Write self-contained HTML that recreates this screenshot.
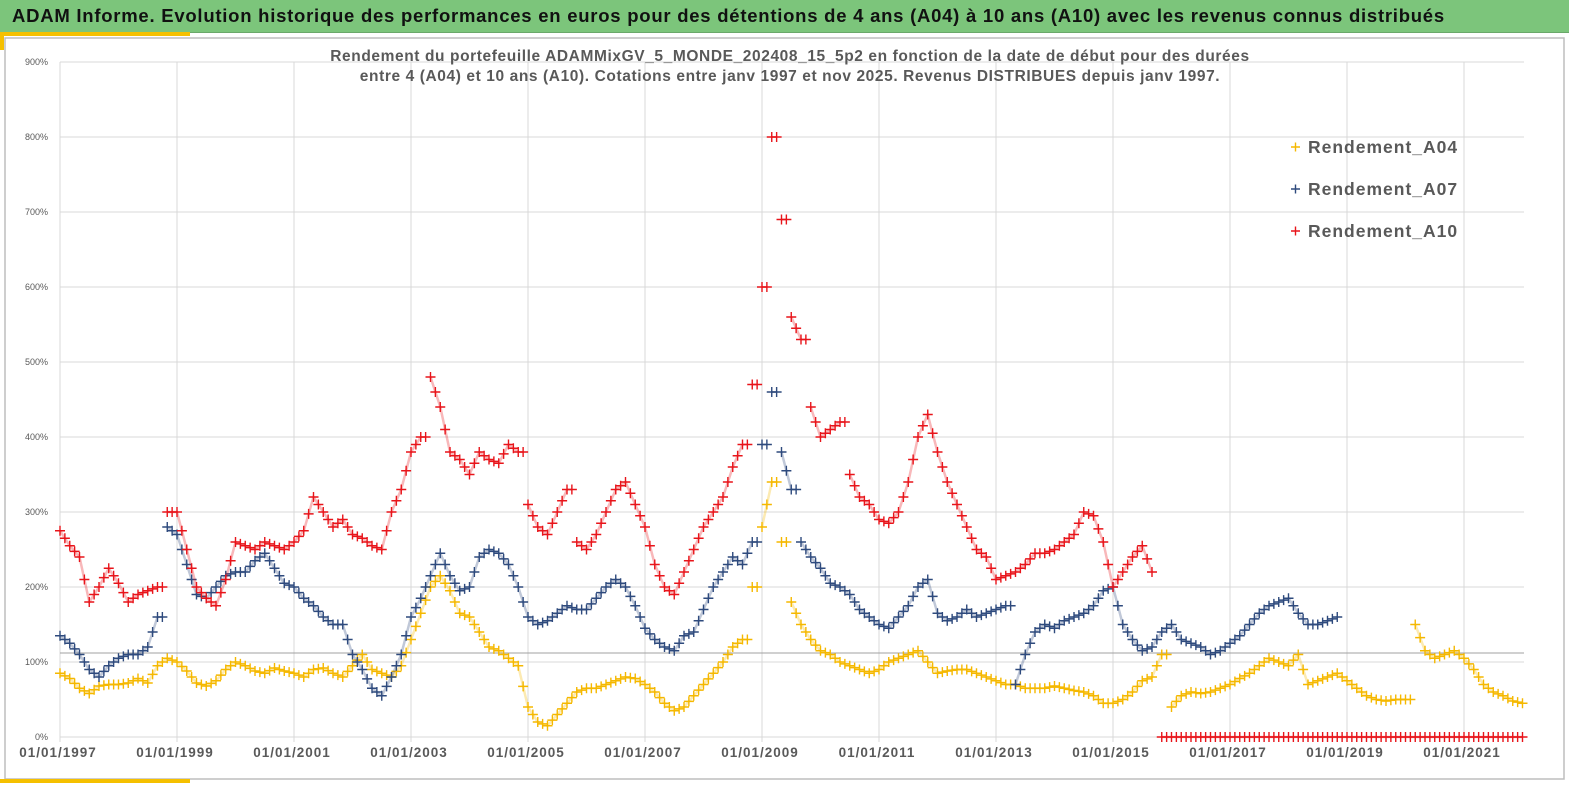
<!DOCTYPE html>
<html><head><meta charset="utf-8"><style>
body{margin:0;width:1569px;height:785px;overflow:hidden;background:#fff;font-family:"Liberation Sans",sans-serif}
#banner{position:absolute;left:0;top:0;width:1569px;height:32px;background:#7cc57b;border-bottom:1px solid #6aa86a}
#banner span{position:absolute;left:12px;top:5px;font-size:18.5px;letter-spacing:0.75px;font-weight:bold;color:#111;white-space:nowrap}
svg{position:absolute;left:0;top:0}
</style></head><body>
<div id="banner"><span>ADAM Informe. Evolution historique des performances en euros pour des détentions de 4 ans (A04) à 10 ans (A10) avec les revenus connus distribués</span></div>
<svg id="chart" width="1569" height="785"></svg>
<script>
const years=['01/01/1997','01/01/1999','01/01/2001','01/01/2003','01/01/2005','01/01/2007','01/01/2009','01/01/2011','01/01/2013','01/01/2015','01/01/2017','01/01/2019','01/01/2021'];
const yTicks=[0,100,200,300,400,500,600,700,800,900];
const startYear=1997;
const perYear=6;
const a04=[85,78,65,58,68,70, 70,72,78,72,95,105, 100,88,72,68,75,90, 100,95,88,85,92,88, 85,80,90,92,85,80, 95,110,90,85,80,95, 130,165,200,215,195,165, 160,140,120,115,105,95, 40,20,15,30,45,60, 65,65,70,75,80,78, 70,60,45,35,40,55, 70,85,100,120,130,200, 280,340,260,180,150,130, 115,110,100,95,90,85, 90,100,105,110,115,100, 85,88,90,90,85,80, 75,70,70,65,65,65, 68,65,62,60,55,45, 45,50,60,75,80,110, 40,55,60,58,60,65, 70,78,85,95,105,100, 95,110,70,75,80,85, 75,65,55,50,48,50, 50,150,115,105,110,115, 105,90,70,60,55,48, 45];
const a07=[135,125,110,90,80,95, 105,110,110,120,160,280, 270,230,190,185,200,215, 220,220,235,245,225,205, 200,185,175,160,150,150, 110,90,65,55,80,110, 160,185,215,245,215,195, 200,240,250,245,230,200, 160,150,155,165,175,170, 170,185,200,210,200,175, 145,130,120,115,135,140, 170,200,220,240,230,260, 390,460,380,330,260,240, 225,205,200,190,170,160, 150,145,160,175,200,210, 165,155,160,170,160,165, 170,175,70,110,140,150, 145,155,160,165,175,195, 200,150,130,115,120,140, 150,130,125,120,110,115, 125,135,150,165,175,180, 185,165,150,150,155,160];
const a10=[275,255,240,180,200,225, 205,180,190,195,200,300, 300,250,200,185,175,210, 260,255,250,260,255,250, 260,275,320,300,280,290, 270,265,255,250,300,330, 380,400,480,440,380,370, 350,380,370,365,390,380, 310,280,270,300,330,260, 250,270,300,330,340,310, 280,230,200,190,220,250, 280,300,320,360,390,470, 600,800,690,560,530,440, 400,410,420,350,320,310, 290,285,300,340,400,430, 380,340,310,280,250,240, 210,215,220,230,245,245, 250,260,270,300,295,260, 200,220,240,255,220,0, 0,0,0,0,0,0, 0,0,0,0,0,0, 0,0,0,0,0,0, 0,0,0,0,0,0, 0,0,0,0,0,0, 0,0,0,0,0,0, 0];
const seriesNames=['Rendement_A04','Rendement_A07','Rendement_A10'];
const seriesColors=['#f5b800','#2e4a7d','#e8141a'];

const NS='http://www.w3.org/2000/svg';
const svg=document.getElementById('chart');
const L=60,R=1524,T=62,B=737;
const xs=t=>L+(t-startYear)*58.5;
const ys=v=>B-v*(B-T)/900;
function el(tag,attrs,parent){const e=document.createElementNS(NS,tag);for(const k in attrs)e.setAttribute(k,attrs[k]);(parent||svg).appendChild(e);return e;}
const fr=el('rect',{x:5,y:38,width:1559,height:741,fill:'none',stroke:'#bdbdbd','stroke-width':1.5});


el('rect',{x:0,y:32,width:190,height:4,fill:'#f5c000'});
el('rect',{x:0,y:32,width:4,height:18,fill:'#f5c000'});
el('rect',{x:0,y:779,width:190,height:4,fill:'#f5c000'});
yTicks.forEach(v=>{
  const g=el('line',{x1:L,x2:R,y1:ys(v),y2:ys(v),stroke:'#d9d9d9','stroke-width':1});
  
  
  const t=el('text',{x:48,y:ys(v)+3,'text-anchor':'end','font-size':9,fill:'#595959'});
  t.textContent=v+'%';
  
  
});
years.forEach((s,i)=>{
  const x=xs(startYear+2*i);
  const g=el('line',{x1:x,x2:x,y1:T,y2:B+5,stroke:'#d9d9d9','stroke-width':1});
  
  
  const t=el('text',{x:x-2,y:757,'text-anchor':'middle','font-size':13.5,'letter-spacing':'1px','font-weight':'bold',fill:'#595959'});
  t.textContent=s;
  
  
});
const ref=el('line',{x1:L,x2:R,y1:ys(112),y2:ys(112),stroke:'#a0a0a0','stroke-width':1});


['Rendement du portefeuille ADAMMixGV_5_MONDE_202408_15_5p2 en fonction de la date de début pour des durées','entre 4 (A04) et 10 ans (A10). Cotations entre janv 1997 et nov 2025. Revenus DISTRIBUES depuis janv 1997.'].forEach((s,i)=>{
  const t=el('text',{x:790,y:61+i*20,'text-anchor':'middle','font-size':15.5,'letter-spacing':'0.6px','font-weight':'bold',fill:'#595959'});
  t.textContent=s;
  
  
});
[a04,a07,a10].forEach((arr,si)=>{
  const g=el('g',{});
  
  
  const c=seriesColors[si];
  let pts=arr.map((v,i)=>[xs(startYear+i/perYear),ys(v)]);
  let d='';
  pts.forEach((p,i)=>{
    const brk=i===0||Math.abs(arr[i]-arr[i-1])>60;
    d+=(brk?'M':'L')+p[0].toFixed(1)+' '+p[1].toFixed(1);
  });
  el('path',{d:d,fill:'none',stroke:c,'stroke-width':2.5,'stroke-opacity':0.3},g);
  pts.forEach((p,i)=>{
    const m=el('path',{d:`M${p[0]-5} ${p[1]}h10M${p[0]} ${p[1]-5}v10`,stroke:c,'stroke-width':1.4},g);
    
    
    if(i<arr.length-1){
      const q=pts[i+1];
      const jump=Math.abs(arr[i+1]-arr[i])>60;
      const mx=jump?p[0]+ (q[0]-p[0])*0.5:(p[0]+q[0])/2, my=jump?p[1]:(p[1]+q[1])/2;
      if(!(arr[i]>0&&arr[i+1]===0)) el('path',{d:`M${mx-5} ${my}h10M${mx} ${my-5}v10`,stroke:c,'stroke-width':1.4},g);
    }
  });
});
seriesNames.forEach((n,i)=>{
  const y=147+i*42;
  const m=el('path',{d:`M1291 ${y}h9M1295.5 ${y-4.5}v9`,stroke:seriesColors[i],'stroke-width':1.4});
  
  
  const t=el('text',{x:1308,y:y+6,'font-size':17.5,'letter-spacing':'1px','font-weight':'bold',fill:'#595959'});
  t.textContent=n;
  
  
});
</script>
</body></html>
